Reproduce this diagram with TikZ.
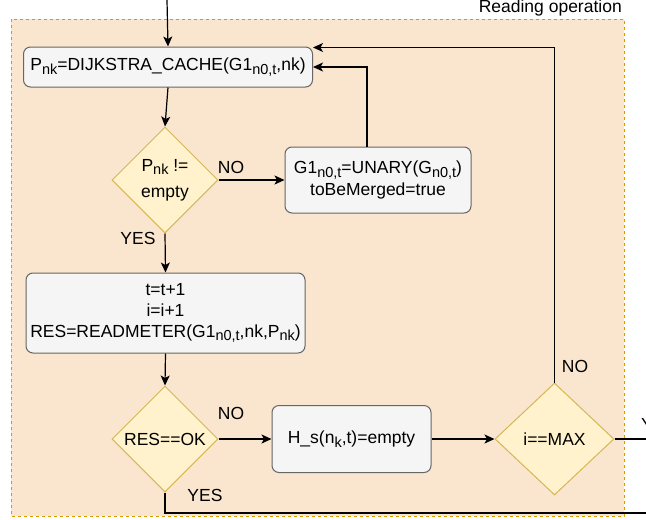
\documentclass[tikz,border=0pt]{standalone}
\usepackage{fontspec}
\setmainfont{Liberation Sans}
\usetikzlibrary{shapes.geometric,arrows.meta}
\definecolor{contfill}{RGB}{250,229,206}
\definecolor{contline}{RGB}{215,155,0}
\definecolor{boxfill}{RGB}{245,245,245}
\definecolor{boxline}{RGB}{102,102,102}
\definecolor{dfill}{RGB}{255,242,204}
\definecolor{dline}{RGB}{214,182,86}
\newcommand\sbs[1]{\raisebox{-0.4ex}{\fontsize{14.5pt}{14.5pt}\selectfont #1}}
\begin{document}
\begin{tikzpicture}[x=1pt,y=-1pt,
  font=\fontsize{17.5pt}{21pt}\selectfont,
  procbox/.style={draw=boxline, fill=boxfill, rounded corners=7pt, align=center, inner sep=0pt, line width=1pt},
  decbox/.style={diamond, draw=dline, fill=dfill, inner sep=0pt, align=center, line width=1pt},
  conn/.style={line width=1.2pt, -{Stealth[length=10pt,width=9pt,inset=2.5pt]}},
  plainline/.style={line width=1.2pt},
  lbl/.style={inner sep=0pt},
  container/.style={draw=contline, fill=contfill, dashed, line width=1pt}]
\useasboundingbox (0,0) rectangle (646,520);
\path[container] (11,19) rectangle (624,516);
\node[lbl, anchor=east] (title) at (622,8) {Reading operation};

\node[procbox, minimum width=289pt, minimum height=40pt] (box1) at (168,67)
  {P\sbs{nk}=DIJKSTRA\_CACHE(G1\sbs{n0,t},nk)};
\node[decbox, minimum width=106pt, minimum height=106pt] (d1) at (165,180)
  {P\sbs{nk} !=\\[5pt]empty};
\node[procbox, minimum width=186pt, minimum height=66pt] (box2) at (378,180)
  {G1\sbs{n0,t}=UNARY(G\sbs{n0,t})\\[1pt]toBeMerged=true};
\node[procbox, minimum width=279pt, minimum height=80pt] (box3) at (165.5,313)
  {t=t+1\\i=i+1\\RES=READMETER(G1\sbs{n0,t},nk,P\sbs{nk})};
\node[decbox, minimum width=106pt, minimum height=106pt] (d2) at (165,439)
  {RES==OK};
\node[procbox, minimum width=159pt, minimum height=67pt] (box4) at (351.5,439)
  {H\_s(n\sbs{k},t)=empty};
\node[decbox, minimum width=119pt, minimum height=112pt] (d3) at (554.5,439)
  {i==MAX};

\coordinate (start) at (167,0);
\coordinate (topy) at (0,47.5);
\coordinate (yesend) at (650,439);
\coordinate (botend) at (650,513);

\draw[conn] (start) -- (box1.north);
\draw[conn] (box1.south) -- (d1.north);
\draw[conn] (d1.east) -- (box2.west);
\draw[conn] ([xshift=-11pt]box2.north) |- (box1.east);
\draw[conn] (d1.south) -- (box3.north);
\draw[conn] (box3.south) -- (d2.north);
\draw[conn] (d2.east) -- (box4.west);
\draw[conn] (box4.east) -- (d3.west);
\draw[conn] (d3.north) |- (box1.east |- topy);
\draw[plainline] (d3.east) -- (yesend);
\draw[plainline] (d2.south) |- (botend);

\node[lbl] (no1) at (231,167) {NO};
\node[lbl] (yes1) at (138,238) {YES};
\node[lbl] (no2) at (231,413) {NO};
\node[lbl] (yes2) at (205,495) {YES};
\node[lbl] (no3) at (575,366) {NO};
\node[lbl, anchor=west] (yes3) at (641,424) {YES};
\end{tikzpicture}
\end{document}
